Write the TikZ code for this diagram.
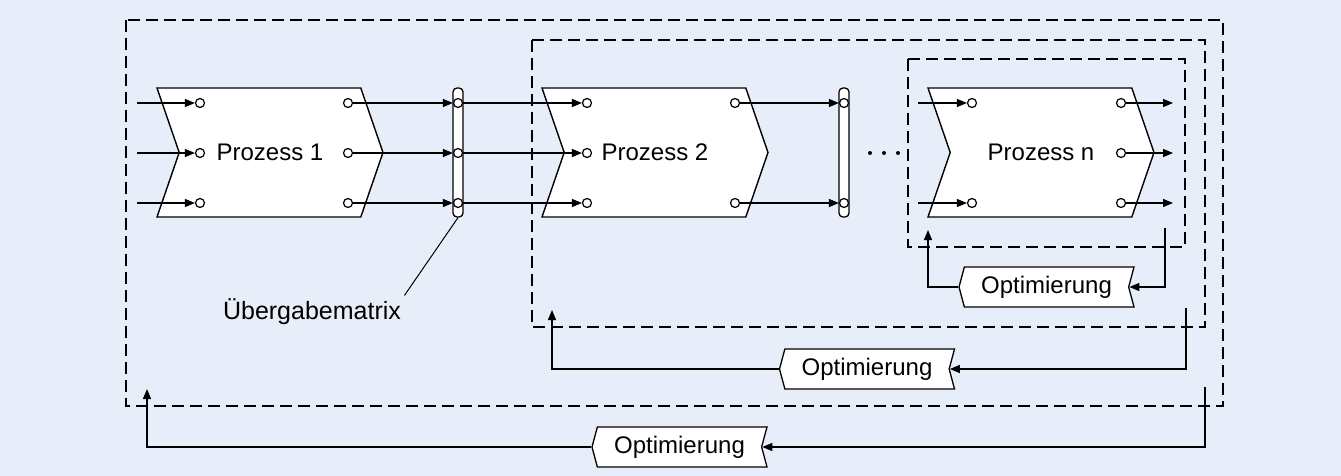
\documentclass[tikz,border=0pt]{standalone}
\usepackage{fontspec}
\setmainfont{Liberation Sans}
\usetikzlibrary{arrows.meta,shapes.symbols}
\definecolor{bgblue}{RGB}{232,238,249}
\tikzset{
  proc/.style = {signal, signal from = west, signal to = east, signal pointer angle = 142,
    draw, fill = white, line width = 1.4pt, minimum width = 226pt, minimum height = 129pt, inner sep = 0pt},
  optbox/.style = {signal, signal from = east, signal to = west, signal pointer angle = 150,
    draw, fill = white, line width = 1.3pt, minimum width = 175pt, minimum height = 40pt, inner sep = 0pt},
  port/.style = {circle, draw, fill = white, line width = 1.2pt, minimum size = 9pt, inner sep = 0pt},
  matrixbar/.style = {rectangle, rounded corners = 4pt, draw, fill = white, line width = 1.3pt,
    minimum width = 10pt, minimum height = 129pt, inner sep = 0pt},
  flowarrow/.style = {-{Triangle[length = 10pt, width = 8pt]}, line width = 1.3pt},
  boxline/.style = {line width = 1.4pt, dash pattern = on 12pt off 6pt}
}
\begin{document}
\begin{tikzpicture}[x = 1pt, y = -1pt, font = \fontsize{24}{28}\selectfont]
\fill[bgblue] (0,0) rectangle (1341,476);
% dashed frames
\draw[boxline] (126,20) rectangle (1223,406);
\draw[boxline] (532,40) rectangle (1205,327);
\draw[boxline] (908,59) rectangle (1185,247);
% processes and transfer matrices
\node[proc] (p1) at (270,152.5) {Prozess 1};
\node[proc] (p2) at (655,152.5) {Prozess 2};
\node[proc] (pn) at (1041,152.5) {Prozess n};
\node[matrixbar] (bar1) at (458,152.5) {};
\node[matrixbar] (bar2) at (844,152.5) {};
\foreach \x in {870,884,898} \fill (\x,153) circle (2);
% ports
\foreach \y/\r in {103/a,153/b,203/c} {
  \coordinate (src\r) at (137,\y);
  \node[port] (p1in\r) at (200,\y) {};
  \node[port] (p1out\r) at (348,\y) {};
  \node[port] (m1\r) at (458,\y) {};
  \node[port] (p2in\r) at (587,\y) {};
  \node[port] (pnout\r) at (1121,\y) {};
  \coordinate (dst\r) at (1173,\y);
  \draw[flowarrow] (src\r) -- (p1in\r);
  \draw[flowarrow] (p1out\r) -- (m1\r);
  \draw[flowarrow] (m1\r) -- (p2in\r);
  \draw[flowarrow] (pnout\r) -- (dst\r);
}
\foreach \y/\r in {103/a,203/c} {
  \node[port] (p2out\r) at (735,\y) {};
  \node[port] (m2\r) at (844,\y) {};
  \coordinate (pnsrc\r) at (918,\y);
  \node[port] (pnin\r) at (972,\y) {};
  \draw[flowarrow] (p2out\r) -- (m2\r);
  \draw[flowarrow] (pnsrc\r) -- (pnin\r);
}
% label of the transfer matrix
\node (mlabel) at (312,312) {\fontsize{25}{29}\selectfont Übergabematrix};
\draw[line width = 1pt] (bar1.south) -- (mlabel.north east);
% optimisation loops
\node[optbox] (opt1) at (1046.5,287) {Optimierung};
\node[optbox] (opt2) at (867,369) {Optimierung};
\node[optbox] (opt3) at (679.5,447) {Optimierung};
\coordinate (fb1a) at (1165,228);
\coordinate (fb1b) at (928,230);
\coordinate (fb2a) at (1186,308);
\coordinate (fb2b) at (552,310);
\coordinate (fb3a) at (1205,387);
\coordinate (fb3b) at (147,389);
\draw[flowarrow] (fb1a) |- (opt1.east);
\draw[flowarrow] (opt1.west) -| (fb1b);
\draw[flowarrow] (fb2a) |- (opt2.east);
\draw[flowarrow] (opt2.west) -| (fb2b);
\draw[flowarrow] (fb3a) |- (opt3.east);
\draw[flowarrow] (opt3.west) -| (fb3b);
\end{tikzpicture}
\end{document}
